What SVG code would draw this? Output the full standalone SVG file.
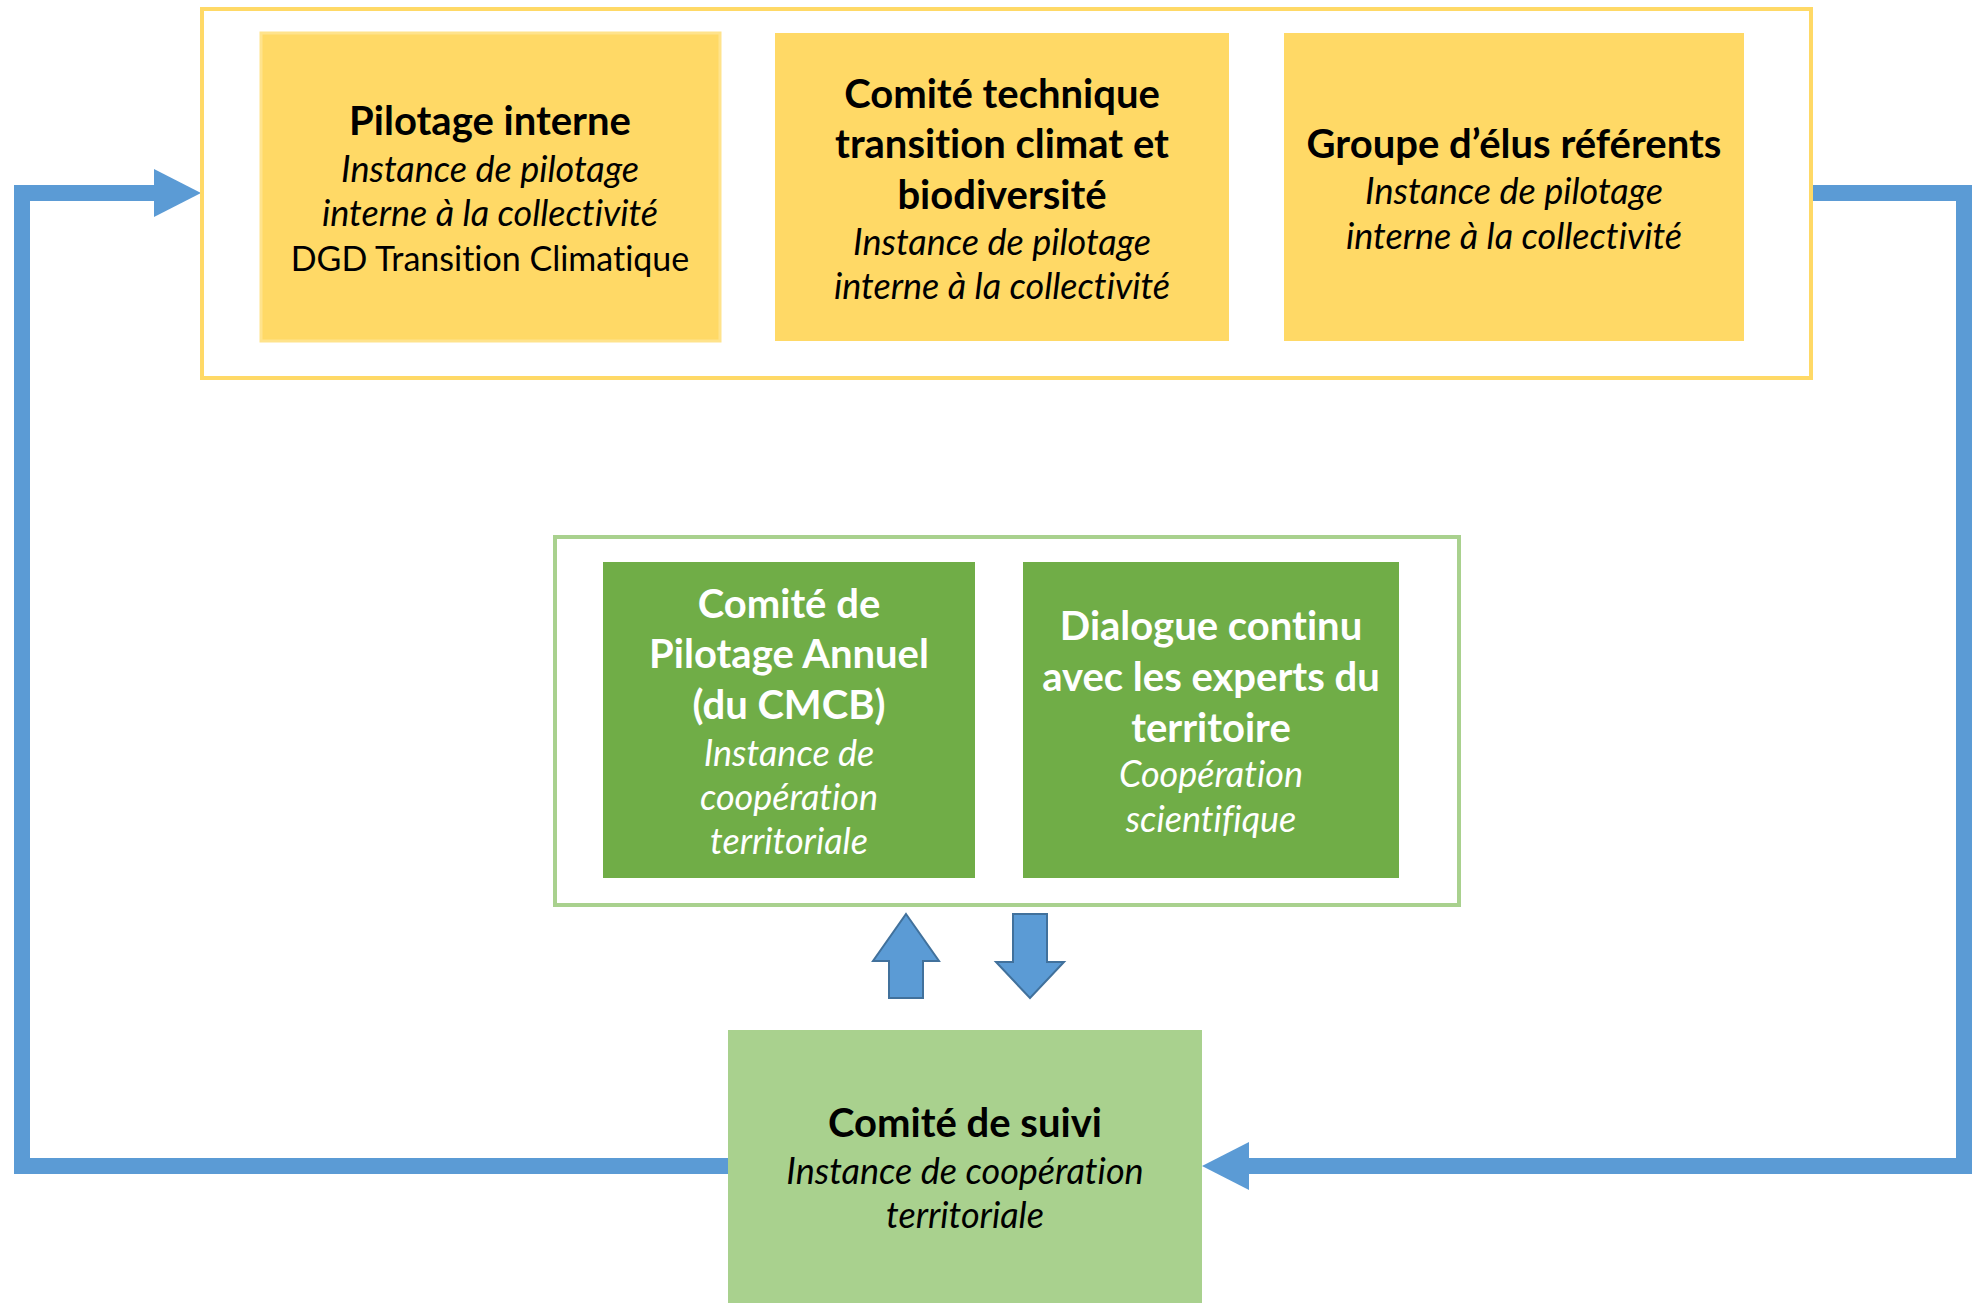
<svg xmlns="http://www.w3.org/2000/svg" width="1972" height="1303" viewBox="0 0 1972 1303">
<style>
text{font-family:Lato,"Liberation Sans",sans-serif;text-anchor:middle;fill:#000;font-variant-ligatures:none}
.t{font-weight:bold;font-size:40px}
.i{font-style:italic;font-size:36px}
.r{font-size:34px}
.w{fill:#fff}
.y{fill:#FFD966}
.g{fill:#70AD47}
.lg{fill:#A9D18E}
.blk{fill:#5B9BD5;stroke:#41719C;stroke-width:2}
.con{fill:none;stroke:#5B9BD5;stroke-width:16;stroke-linejoin:miter}
</style>
<defs>
<marker id="ah" markerUnits="userSpaceOnUse" markerWidth="47" markerHeight="48" viewBox="0 0 47 48" refX="0" refY="24" orient="auto">
<path d="M0 0 L47 24 L0 48 Z" fill="#5B9BD5"/>
</marker>
</defs>
<rect width="1972" height="1303" fill="#fff"/>
<g id="connectors">
<path class="con" d="M729 1166 H22 V193 H154" marker-end="url(#ah)"/>
<path class="con" d="M1811 193 H1964 V1166 H1249" marker-end="url(#ah)"/>
<polygon class="blk" points="906,914 939,961 923,961 923,998 889,998 889,961 873,961"/>
<polygon class="blk" points="1013,914 1047,914 1047,962 1064,962 1030,998 996,962 1013,962"/>
</g>
<g id="group-pilotage">
<rect x="202" y="9" width="1609" height="369" fill="none" stroke="#FFD966" stroke-width="4"/>
</g>
<g id="pilotage-interne">
<rect class="y" x="261" y="33" width="459" height="308" stroke="#FFE38C" stroke-width="3"/>
<text class="t" x="490" y="135">Pilotage interne</text>
<text class="i" x="490" y="182">Instance de pilotage</text>
<text class="i" x="490" y="226">interne à la collectivité</text>
<text class="r" x="490" y="271">DGD Transition Climatique</text>
</g>
<g id="comite-technique">
<rect class="y" x="775" y="33" width="454" height="308"/>
<text class="t" x="1002" y="108">Comité technique</text>
<text class="t" x="1002" y="158">transition climat et</text>
<text class="t" x="1002" y="209">biodiversité</text>
<text class="i" x="1002" y="255">Instance de pilotage</text>
<text class="i" x="1002" y="299">interne à la collectivité</text>
</g>
<g id="groupe-elus">
<rect class="y" x="1284" y="33" width="460" height="308"/>
<text class="t" x="1514" y="158">Groupe d’élus référents</text>
<text class="i" x="1514" y="204">Instance de pilotage</text>
<text class="i" x="1514" y="249">interne à la collectivité</text>
</g>
<g id="group-cooperation">
<rect x="555" y="537" width="904" height="368" fill="none" stroke="#A9D18E" stroke-width="4"/>
</g>
<g id="comite-pilotage-annuel">
<rect class="g" x="603" y="562" width="372" height="316"/>
<text class="t w" x="789" y="618">Comité de</text>
<text class="t w" x="789" y="668">Pilotage Annuel</text>
<text class="t w" x="789" y="719">(du CMCB)</text>
<text class="i w" x="789" y="766">Instance de</text>
<text class="i w" x="789" y="810">coopération</text>
<text class="i w" x="789" y="854">territoriale</text>
</g>
<g id="dialogue-experts">
<rect class="g" x="1023" y="562" width="376" height="316"/>
<text class="t w" x="1211" y="640">Dialogue continu</text>
<text class="t w" x="1211" y="691">avec les experts du</text>
<text class="t w" x="1211" y="742">territoire</text>
<text class="i w" x="1211" y="787">Coopération</text>
<text class="i w" x="1211" y="832">scientifique</text>
</g>
<g id="comite-suivi">
<rect class="lg" x="728" y="1030" width="474" height="273"/>
<text class="t" x="965" y="1137">Comité de suivi</text>
<text class="i" x="965" y="1184">Instance de coopération</text>
<text class="i" x="965" y="1228">territoriale</text>
</g>
</svg>
